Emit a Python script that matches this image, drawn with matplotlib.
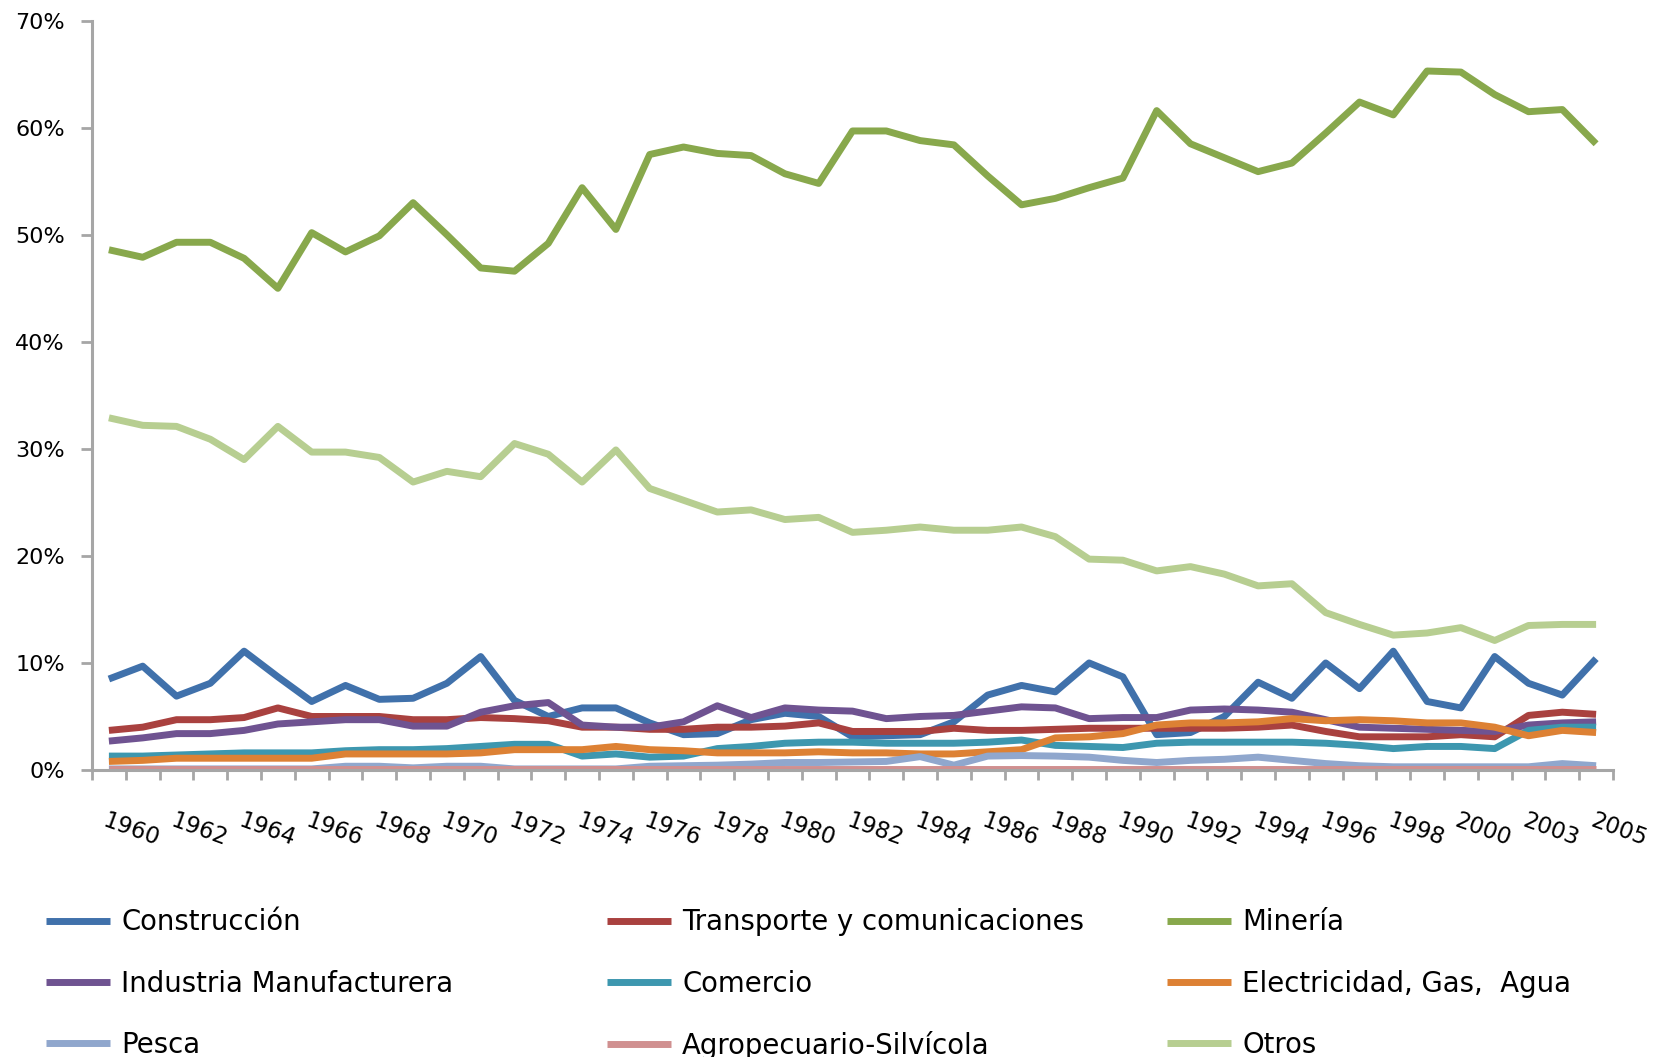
import matplotlib
matplotlib.use('Agg')
import matplotlib.pyplot as plt
import matplotlib.transforms as mtransforms
import numpy as np

# years on the category axis (2002 is not in the source table)
years = list(range(1960, 2002)) + [2003, 2004, 2005]

construccion = [8.5, 9.7, 6.9, 8.1, 11.1, 8.7, 6.4, 7.9, 6.6, 6.7, 8.1, 10.6, 6.5, 5.0, 5.8,
                5.8, 4.4, 3.3, 3.4, 4.7, 5.3, 5.0, 3.1, 3.2, 3.3, 4.5, 7.0, 7.9, 7.3, 10.0,
                8.7, 3.3, 3.5, 5.0, 8.2, 6.7, 10.0, 7.6, 11.1, 6.4, 5.8, 10.6, 8.1, 7.0, 10.4]
transporte = [3.7, 4.0, 4.7, 4.7, 4.9, 5.8, 5.0, 5.0, 5.0, 4.7, 4.7, 4.9, 4.8, 4.6, 4.0,
              4.0, 3.8, 3.8, 4.0, 4.0, 4.1, 4.4, 3.6, 3.6, 3.6, 3.9, 3.7, 3.7, 3.8, 3.9,
              3.9, 3.9, 3.9, 3.9, 4.0, 4.2, 3.6, 3.1, 3.1, 3.1, 3.3, 3.1, 5.1, 5.4, 5.2]
mineria = [48.6, 47.9, 49.3, 49.3, 47.8, 45.0, 50.2, 48.4, 49.9, 53.0, 50.0, 46.9, 46.6, 49.2, 54.4,
           50.5, 57.5, 58.2, 57.6, 57.4, 55.7, 54.8, 59.7, 59.7, 58.8, 58.4, 55.5, 52.8, 53.4, 54.4,
           55.3, 61.6, 58.5, 57.2, 55.9, 56.7, 59.5, 62.4, 61.2, 65.3, 65.2, 63.1, 61.5, 61.7, 58.5]
industria = [2.7, 3.0, 3.4, 3.4, 3.7, 4.3, 4.5, 4.7, 4.7, 4.1, 4.1, 5.4, 6.0, 6.3, 4.2,
             4.0, 4.0, 4.5, 6.0, 4.9, 5.8, 5.6, 5.5, 4.8, 5.0, 5.1, 5.5, 5.9, 5.8, 4.8,
             4.9, 4.9, 5.6, 5.7, 5.6, 5.4, 4.7, 4.0, 3.9, 3.8, 3.7, 3.6, 4.2, 4.4, 4.5]
comercio = [1.3, 1.3, 1.4, 1.5, 1.6, 1.6, 1.6, 1.8, 1.9, 1.9, 2.0, 2.2, 2.4, 2.4, 1.3,
            1.5, 1.2, 1.3, 2.0, 2.2, 2.5, 2.6, 2.6, 2.5, 2.5, 2.5, 2.6, 2.8, 2.3, 2.2,
            2.1, 2.5, 2.6, 2.6, 2.6, 2.6, 2.5, 2.3, 2.0, 2.2, 2.2, 2.0, 3.7, 4.0, 4.0]
electricidad = [0.8, 0.9, 1.1, 1.1, 1.1, 1.1, 1.1, 1.5, 1.5, 1.5, 1.5, 1.6, 1.9, 1.9, 1.9,
                2.2, 1.9, 1.8, 1.6, 1.6, 1.6, 1.7, 1.6, 1.6, 1.5, 1.5, 1.7, 1.9, 3.0, 3.1,
                3.4, 4.2, 4.4, 4.4, 4.5, 4.8, 4.6, 4.7, 4.6, 4.4, 4.4, 4.0, 3.2, 3.7, 3.5]
pesca = [0.1, 0.1, 0.1, 0.1, 0.1, 0.1, 0.1, 0.35, 0.35, 0.2, 0.35, 0.35, 0.1, 0.1, 0.1,
         0.1, 0.35, 0.4, 0.45, 0.55, 0.7, 0.7, 0.75, 0.8, 1.25, 0.45, 1.3, 1.35, 1.3, 1.2,
         0.9, 0.7, 0.9, 1.0, 1.2, 0.9, 0.6, 0.4, 0.3, 0.3, 0.3, 0.3, 0.3, 0.6, 0.4]
agropecuario = [0.1, 0.1, 0.1, 0.1, 0.1, 0.1, 0.1, 0.1, 0.1, 0.1, 0.1, 0.1, 0.1, 0.1, 0.1,
                0.1, 0.1, 0.1, 0.1, 0.1, 0.1, 0.1, 0.1, 0.1, 0.1, 0.1, 0.1, 0.1, 0.1, 0.1,
                0.1, 0.1, 0.1, 0.1, 0.1, 0.1, 0.1, 0.1, 0.1, 0.1, 0.1, 0.1, 0.1, 0.1, 0.1]
otros = [32.9, 32.2, 32.1, 30.9, 29.0, 32.1, 29.7, 29.7, 29.2, 26.9, 27.9, 27.4, 30.5, 29.5, 26.9,
         29.9, 26.3, 25.2, 24.1, 24.3, 23.4, 23.6, 22.2, 22.4, 22.7, 22.4, 22.4, 22.7, 21.8, 19.7,
         19.6, 18.6, 19.0, 18.3, 17.2, 17.4, 14.7, 13.6, 12.6, 12.8, 13.3, 12.1, 13.5, 13.6, 13.6]

series = [
    ('Construcción', construccion, '#4071AB'),
    ('Transporte y comunicaciones', transporte, '#A9413F'),
    ('Minería', mineria, '#88A84C'),
    ('Industria Manufacturera', industria, '#6F5391'),
    ('Comercio', comercio, '#3D97AF'),
    ('Electricidad, Gas,  Agua', electricidad, '#DD8134'),
    ('Pesca', pesca, '#90A7CD'),
    ('Agropecuario-Silvícola', agropecuario, '#D09090'),
    ('Otros', otros, '#B7CE91'),
]

W, H = 1664, 1057
fig = plt.figure(figsize=(W / 100, H / 100), dpi=100)
ax = fig.add_axes([92 / W, 1 - 770 / H, (1613 - 92) / W, (770 - 20.7) / H])

x = np.arange(len(years))
handles = {}
for name, vals, col in series:
    ln, = ax.plot(x, vals, color=col, lw=5.0, solid_joinstyle='round',
                  solid_capstyle='butt', label=name)
    handles[name] = ln

ax.set_xlim(-0.5, len(years) - 0.5)
ax.set_ylim(0, 70)

for s in ['top', 'right']:
    ax.spines[s].set_visible(False)
for s in ['left', 'bottom']:
    ax.spines[s].set_color('#A6A6A6')
    ax.spines[s].set_linewidth(2.2)

# category boundaries get tick marks, labels sit on every other category
ax.set_xticks(np.arange(-0.5, len(years)))
ax.set_xticklabels([])
ax.set_xticks(x[::2], minor=True)
ax.set_xticklabels([str(years[i]) for i in x[::2]], minor=True)
ax.tick_params(axis='x', which='major', direction='out', length=7.5, width=2, color='#A6A6A6')
ax.tick_params(axis='x', which='minor', length=0, pad=28, labelsize=16.5)
shift = mtransforms.ScaledTranslation(-1 / 100, 0, fig.dpi_scale_trans)
for lab in ax.get_xticklabels(minor=True):
    lab.set_rotation(-20)
    lab.set_rotation_mode('anchor')
    lab.set_ha('left')
    lab.set_va('top')
    lab.set_transform(lab.get_transform() + shift)

ax.set_yticks(range(0, 71, 10))
ax.set_yticklabels([f'{v}%' for v in range(0, 71, 10)])
ax.tick_params(axis='y', direction='out', length=8, width=2, color='#A6A6A6',
               pad=11.5, labelsize=16)

# legend: three fixed-width columns, filled row by row like the source
columns = [
    ['Construcción', 'Industria Manufacturera', 'Pesca'],
    ['Transporte y comunicaciones', 'Comercio', 'Agropecuario-Silvícola'],
    ['Minería', 'Electricidad, Gas,  Agua', 'Otros'],
]
col_x = [46, 607, 1167]
for cx, names in zip(col_x, columns):
    fig.legend([handles[n] for n in names], names, loc='upper left',
               bbox_to_anchor=(cx / W, 1 - 908.5 / H), frameon=False,
               fontsize=19.8, handlelength=2.33, handletextpad=0.40,
               labelspacing=1.21, borderpad=0, borderaxespad=0)

fig.savefig('out.png', dpi=100)
